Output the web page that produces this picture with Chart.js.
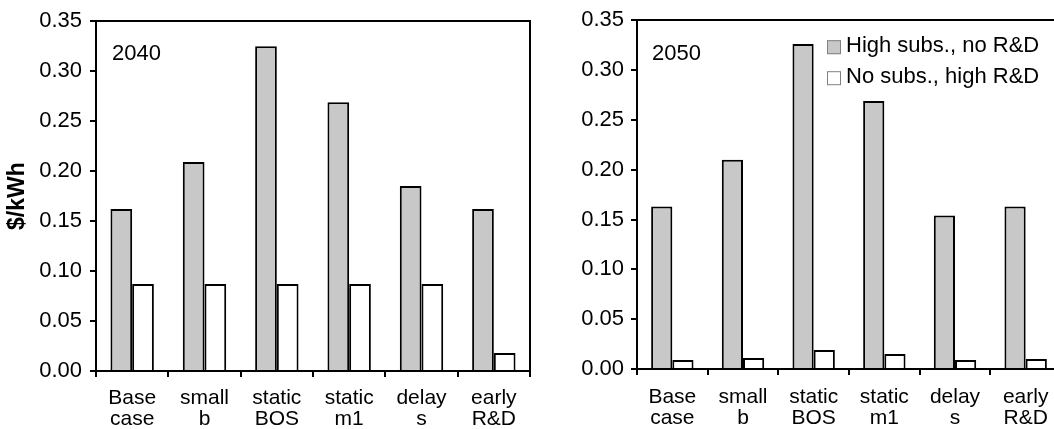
<!DOCTYPE html>
<html>
<head>
<meta charset="utf-8">
<script src="https://cdn.jsdelivr.net/npm/chart.js@4.4.1/dist/chart.umd.min.js"></script>
<style>
  html, body { margin: 0; padding: 0; background: #fff; overflow: hidden; width: 1054px; height: 429px; }
  canvas { position: absolute; top: 0; }
  #c1 { left: 0; }
  #c2 { left: 530px; }
</style>
</head>
<body>
<canvas id="c1" width="540" height="429"></canvas>
<canvas id="c2" width="545" height="429"></canvas>
<script>
// ---- data ----
const categories = [['Base', 'case'], ['small', 'b'], ['static', 'BOS'], ['static', 'm1'], ['delay', 's'], ['early', 'R&D']];
const seriesNames = ['High subs., no R&D', 'No subs., high R&D'];
const highSubs2040 = [0.162, 0.209, 0.325, 0.269, 0.185, 0.162];
const noSubs2040 = [0.087, 0.087, 0.087, 0.087, 0.087, 0.018];
const highSubs2050 = [0.163, 0.210, 0.326, 0.269, 0.154, 0.163];
const noSubs2050 = [0.009, 0.011, 0.019, 0.015, 0.009, 0.010];
const yTickValues = [0, 0.05, 0.10, 0.15, 0.20, 0.25, 0.30, 0.35];
const yTickLabels = ['0.00', '0.05', '0.10', '0.15', '0.20', '0.25', '0.30', '0.35'];
const yAxisTitle = '$/kWh';
const panelYears = ['2040', '2050'];

// ---- styling ----
const FONT = "'Liberation Sans', Arial, Helvetica, sans-serif";
const GRAY = '#c8c8c8';
const LINE = 2;
Chart.defaults.font.family = FONT;
Chart.defaults.color = '#000';

const overlayPlugin = {
  id: 'overlay',
  afterDraw(chart, args, o) {
    const { ctx, chartArea: a } = chart;
    ctx.save();
    ctx.fillStyle = '#000';
    ctx.textAlign = 'left';
    ctx.textBaseline = 'alphabetic';
    ctx.font = '22px ' + FONT;
    ctx.fillText(o.year, a.left + o.yearDx, a.top + o.yearDy);
    if (o.legend) {
      ctx.font = '22px ' + FONT;
      chart.data.datasets.forEach((ds, i) => {
        const base = a.top + 32 + i * 31;
        const tx = a.left + 209;
        ctx.fillStyle = ds.backgroundColor;
        ctx.fillRect(tx - 19, base - 12, 14, 14);
        ctx.strokeStyle = '#808080';
        ctx.lineWidth = 1;
        ctx.strokeRect(tx - 18.5, base - 11.5, 13, 13);
        ctx.fillStyle = '#000';
        ctx.fillText(ds.label, tx, base);
      });
    }
    ctx.restore();
  }
};

function makeChart(id, high, low, cfg) {
  return new Chart(document.getElementById(id), {
    type: 'bar',
    data: {
      labels: categories,
      datasets: [
        { label: seriesNames[0], data: high, backgroundColor: GRAY, borderColor: '#000', borderWidth: LINE,
          barPercentage: 1.0, categoryPercentage: 0.6 },
        { label: seriesNames[1], data: low, backgroundColor: '#ffffff', borderColor: '#000', borderWidth: LINE,
          barPercentage: 1.0, categoryPercentage: 0.6 }
      ]
    },
    options: {
      responsive: false,
      animation: false,
      devicePixelRatio: 1,
      layout: { padding: { left: 0, top: cfg.top, right: cfg.right, bottom: 0 } },
      plugins: {
        legend: { display: false },
        tooltip: { enabled: false },
        overlay: { year: cfg.year, legend: cfg.legend, yearDx: cfg.yearDx, yearDy: cfg.yearDy }
      },
      scales: {
        x: {
          type: 'category', position: 'bottom', offset: true,
          afterFit: s => { s.height = cfg.xHeight; },
          ticks: { font: { size: 21, lineHeight: 1.02 }, color: '#000', padding: cfg.xPad, maxRotation: 0, minRotation: 0, autoSkip: false },
          grid: { offset: true, drawOnChartArea: false, drawTicks: true, tickLength: 6, color: '#000', lineWidth: LINE },
          border: { display: true, color: '#000', width: LINE }
        },
        xTop: {
          type: 'category', position: 'top', offset: true,
          ticks: { display: false },
          grid: { drawOnChartArea: false, drawTicks: false, color: '#000', lineWidth: LINE },
          border: { display: true, color: '#000', width: LINE }
        },
        y: {
          type: 'linear', position: 'left', min: 0, max: 0.35,
          afterBuildTicks: s => { s.ticks = yTickValues.map(v => ({ value: v })); },
          afterFit: s => { s.width = cfg.yWidth; },
          ticks: { callback: (v, i) => yTickLabels[i], font: { size: 22 }, color: '#000', padding: cfg.yPad },
          grid: { drawOnChartArea: false, drawTicks: true, tickLength: 6, color: '#000', lineWidth: LINE },
          border: { display: true, color: '#000', width: LINE },
          title: { display: cfg.showTitle, text: yAxisTitle, color: '#000', font: { size: 23, weight: 'bold' }, padding: { top: 4, bottom: 0 } }
        },
        yRight: {
          type: 'linear', position: 'right', min: 0, max: 0.35,
          ticks: { display: false },
          grid: { drawOnChartArea: false, drawTicks: false, color: '#000', lineWidth: LINE },
          border: { display: true, color: '#000', width: LINE }
        }
      }
    },
    plugins: [overlayPlugin]
  });
}

makeChart('c1', highSubs2040, noSubs2040, {
  year: panelYears[0], legend: false, yearDx: 16, yearDy: 39,
  top: 17, right: 10, xHeight: 58, yWidth: 96, xPad: 10, yPad: 8, showTitle: true
});
makeChart('c2', highSubs2050, noSubs2050, {
  year: panelYears[1], legend: true, yearDx: 15, yearDy: 40,
  top: 15, right: 14, xHeight: 60, yWidth: 107, xPad: 11, yPad: 7, showTitle: false
});
</script>
</body>
</html>
